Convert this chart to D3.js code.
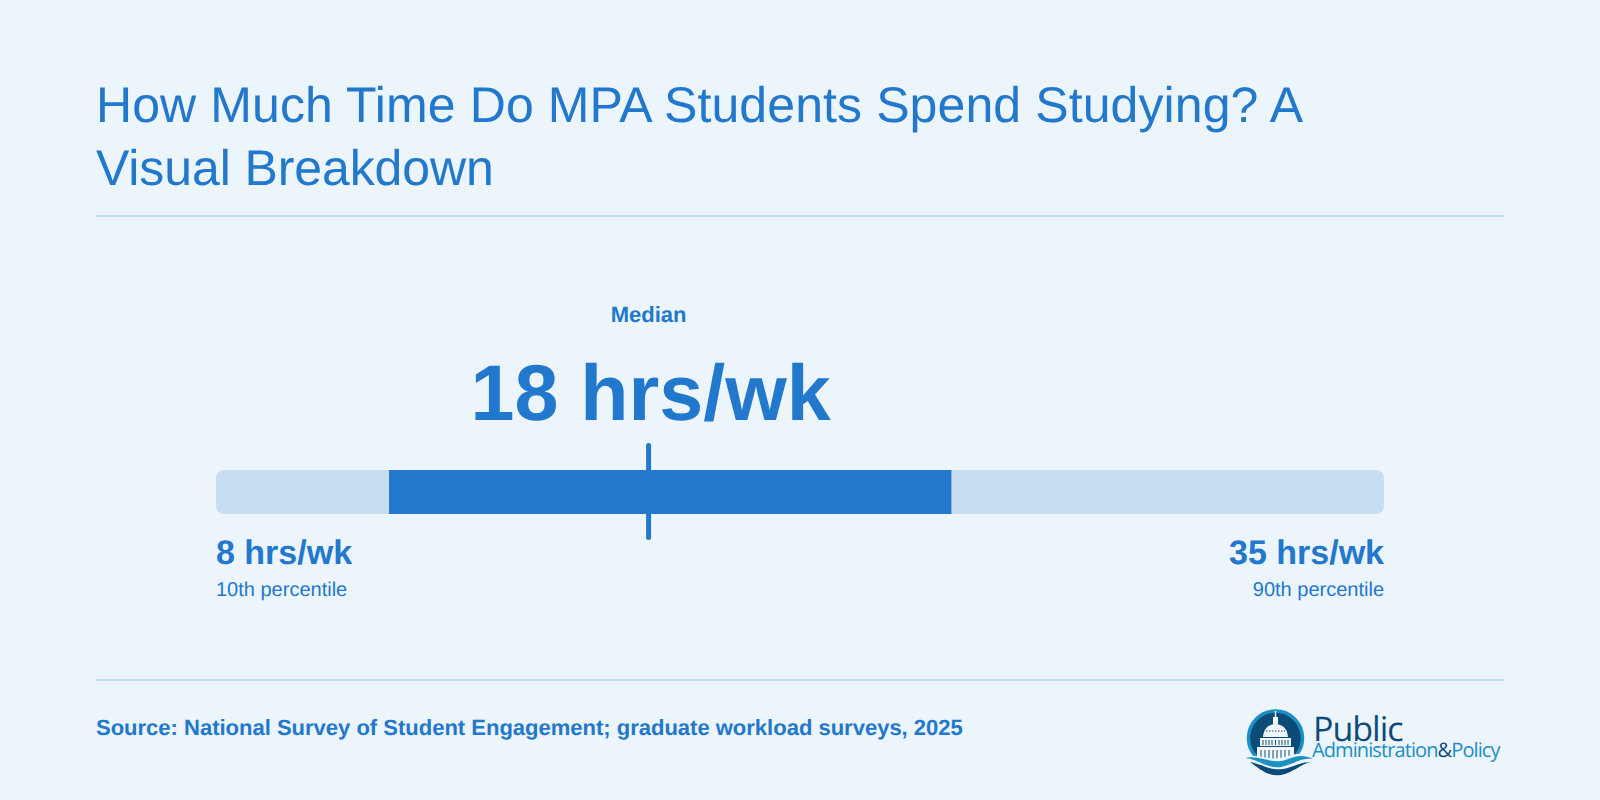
<!DOCTYPE html>
<html><head><meta charset="utf-8">
<script src="https://cdn.jsdelivr.net/npm/d3@7/dist/d3.min.js"></script>
<style>html,body{margin:0;padding:0;background:#ecf4fc}svg{display:block}text{font-family:"Liberation Sans",Arial,sans-serif;text-rendering:geometricPrecision}</style>
</head><body><svg id="c" width="1600" height="800"></svg>
<script>
const titleLines = ["How Much Time Do MPA Students Spend Studying? A", "Visual Breakdown"];
const p10 = 8, q1 = 12, median = 18, q3 = 25, p90 = 35;
const unit = "hrs/wk";
const medianLabel = "Median";
const lowLabel = "10th percentile";
const highLabel = "90th percentile";
const sourceText = "Source: National Survey of Student Engagement; graduate workload surveys, 2025";
const blue = "#2178cc", light = "#c7ddf2", rule = "#c5dcf0";
const navy = "#0c4a78", teal = "#1a8fc4", white = "#f2f7fb";

const svg = d3.select("#c");
const x = d3.scaleLinear().domain([p10, p90]).range([216, 1384]);

svg.append("rect").attr("width",1600).attr("height",800).attr("fill","#ecf4fc");
svg.selectAll("text.title").data(titleLines).join("text").attr("class","title")
  .attr("x",96).attr("y",(d,i)=>122+i*63).attr("font-size",50).attr("letter-spacing",(d,i)=>i?-0.1:0.1).attr("fill",blue).text(d=>d);
[216,680].forEach(y=>svg.append("rect").attr("x",96).attr("y",y-1).attr("width",1408).attr("height",2).attr("fill",rule));

svg.append("rect").attr("x",x(p10)).attr("y",470).attr("width",x(p90)-x(p10)).attr("height",44).attr("rx",8).attr("fill",light);
svg.append("rect").attr("x",x(q1)).attr("y",470).attr("width",x(q3)-x(q1)).attr("height",44).attr("fill",blue);
svg.append("rect").attr("x",x(median)-2.5).attr("y",443).attr("width",5).attr("height",97).attr("rx",2.5).attr("fill",blue);

svg.append("text").attr("x",x(median)).attr("y",322).attr("text-anchor","middle").attr("font-size",22).attr("font-weight",700).attr("fill",blue).text(medianLabel);
svg.append("text").attr("x",x(median)+2).attr("y",420).attr("text-anchor","middle").attr("font-size",79).attr("font-weight",700).attr("fill",blue).text(`${median} ${unit}`);
svg.append("text").attr("x",x(p10)).attr("y",563.5).attr("font-size",34).attr("font-weight",700).attr("fill",blue).text(`${p10} ${unit}`);
svg.append("text").attr("x",x(p90)).attr("y",563.5).attr("text-anchor","end").attr("font-size",34).attr("font-weight",700).attr("fill",blue).text(`${p90} ${unit}`);
svg.append("text").attr("x",x(p10)).attr("y",596).attr("font-size",20).attr("fill",blue).text(lowLabel);
svg.append("text").attr("x",x(p90)).attr("y",596).attr("text-anchor","end").attr("font-size",20).attr("fill",blue).text(highLabel);
svg.append("text").attr("x",96).attr("y",735).attr("font-size",22).attr("font-weight",700).attr("fill",blue).text(sourceText);

// logo: emblem
const logo = svg.append("g");
logo.append("circle").attr("cx",1275.5).attr("cy",738).attr("r",27).attr("fill",navy).attr("stroke",teal).attr("stroke-width",3.5);
logo.append("path").attr("fill",white).attr("d","M1274.800 711h1.400v6h1.800v7h-5v-7h1.800z");
logo.append("path").attr("fill",white).attr("d","M1275.500 724c7 0 12 5 12.500 13h-25c.500-8 5.500-13 12.500-13z");
logo.append("path").attr("fill",white).attr("d","M1260 738h31v8h-31z");
logo.append("path").attr("fill",white).attr("d","M1257 747h37v14h-37z");
logo.append("path").attr("stroke",navy).attr("stroke-width",1).attr("fill","none").attr("d","M1263 740v5M1266 740v5M1269 740v5M1272 740v5M1275.500 740v5M1279 740v5M1282 740v5M1285 740v5M1288 740v5M1261 750v11M1265 750v11M1269 750v11M1273 750v11M1277 750v11M1281 750v11M1285 750v11M1289 750v11");
logo.append("path").attr("stroke",navy).attr("stroke-width",1).attr("stroke-dasharray","1.500 1.500").attr("fill","none").attr("d","M1266 731h19");
logo.append("path").attr("fill","#ecf4fc").attr("d","M1243 756c14-2 24 4 36 2 12-2 20-7 34-3v8l-30 14h-12l-28-18z");
logo.append("path").attr("fill",navy).attr("d","M1250 762c12 2 20 9 33 7 11-2 17-7 28-7-11 2-16 10-30 13-14 2-22-7-31-13z");
logo.append("path").attr("fill",teal).attr("d","M1245 758c14-3 24 5 36 3 11-2 18-9 32-2-13-2-20 6-32 8-14 2-23-8-36-9z");
logo.append("text").attr("x",1313).attr("y",741).attr("font-size",34).attr("letter-spacing",-1).style("font-family","'Open Sans'").attr("fill",navy).text("Public");
const t = logo.append("text").attr("x",1312).attr("y",757).attr("font-size",20).attr("letter-spacing",-0.9).style("font-family","'Open Sans'").attr("fill",teal);
t.append("tspan").text("Administration");
t.append("tspan").attr("fill",navy).text("&");
t.append("tspan").text("Policy");
</script></body></html>
